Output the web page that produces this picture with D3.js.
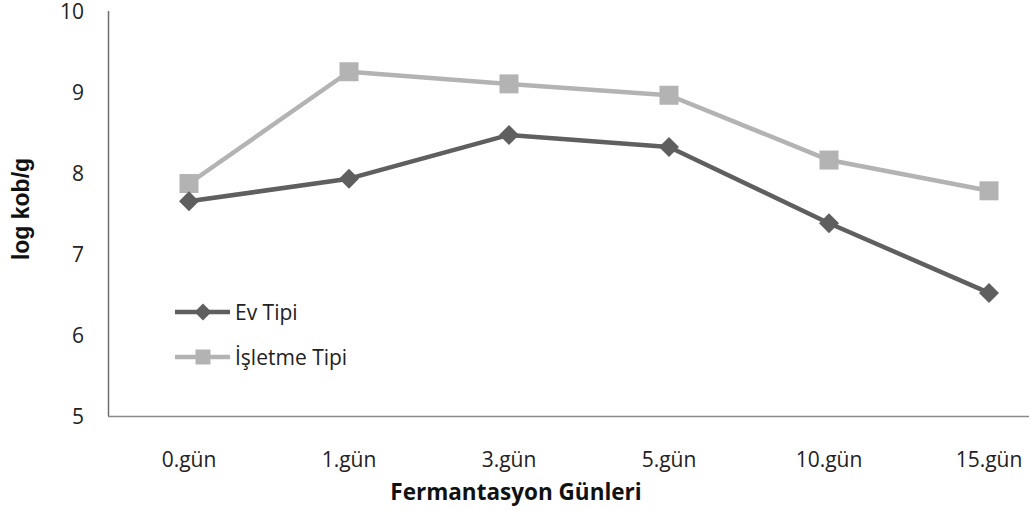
<!DOCTYPE html>
<html>
<head>
<meta charset="utf-8">
<script src="https://cdn.jsdelivr.net/npm/d3@7"></script>
<style>
  html, body { margin: 0; padding: 0; background: #fff; }
  svg { display: block; }
</style>
</head>
<body>
<svg id="chart" width="1035" height="510"></svg>
<script>
// Fermentation days and bacterial counts (log cfu/g) for the two production types
const days = ["0.gün", "1.gün", "3.gün", "5.gün", "10.gün", "15.gün"];
const evTipi = [7.65, 7.93, 8.47, 8.32, 7.38, 6.52];
const isletmeTipi = [7.87, 9.25, 9.10, 8.96, 8.16, 7.78];
const yTicks = [5, 6, 7, 8, 9, 10];
const seriesNames = ["Ev Tipi", "İşletme Tipi"];

const series = [
  { name: seriesNames[0], values: evTipi, color: "#5f5f5f", marker: "diamond" },
  { name: seriesNames[1], values: isletmeTipi, color: "#b3b3b3", marker: "square" }
];

const svg = d3.select("#chart");
const tickFont = "'Open Sans', sans-serif";

const x = d3.scaleBand().domain(days).range([109, 1069]);
const y = d3.scaleLinear().domain([5, 10]).range([416, 11]);

// Axis lines
svg.append("line")
  .attr("x1", 108.5).attr("x2", 108.5)
  .attr("y1", 11).attr("y2", 416)
  .attr("stroke", "#6e6e6e").attr("stroke-width", 1.5);
svg.append("line")
  .attr("x1", 108).attr("x2", 1029)
  .attr("y1", 416.5).attr("y2", 416.5)
  .attr("stroke", "#8a8a8a").attr("stroke-width", 1.5);

// Y axis labels
const yAxis = d3.axisLeft(y).tickValues(yTicks).tickFormat(d3.format("d")).tickSize(0).tickPadding(0);
const gy = svg.append("g").attr("transform", "translate(84,0)").call(yAxis);
gy.select(".domain").remove();
gy.selectAll("text")
  .attr("font-family", tickFont).attr("font-size", 21).attr("fill", "#222")
  .attr("dy", "0.36em");

// X axis labels
const xAxis = d3.axisBottom(x).tickSize(0).tickPadding(0);
const gx = svg.append("g").attr("transform", "translate(0,452)").call(xAxis);
gx.select(".domain").remove();
gx.selectAll("text")
  .attr("font-family", tickFont).attr("font-size", 21).attr("fill", "#222")
  .attr("dy", "0.71em");

// Axis titles
svg.append("text")
  .attr("transform", "translate(29,209) rotate(-90)")
  .attr("text-anchor", "middle")
  .attr("font-family", "'Liberation Sans', Arial, sans-serif")
  .attr("font-weight", "bold").attr("font-size", 23).attr("fill", "#111")
  .text("log kob/g");
svg.append("text")
  .attr("x", 516).attr("y", 500)
  .attr("text-anchor", "middle")
  .attr("font-family", tickFont)
  .attr("font-weight", "bold").attr("font-size", 22.5).attr("fill", "#111")
  .text("Fermantasyon Günleri");

const cx = (i) => x(days[i]) + x.bandwidth() / 2;
const line = d3.line().x((d, i) => cx(i)).y(d => y(d));

function drawMarker(g, type, px, py, size, color) {
  if (type === "square") {
    g.append("rect")
      .attr("x", px - size / 2).attr("y", py - size / 2)
      .attr("width", size).attr("height", size)
      .attr("fill", color);
  } else {
    const r = size / 2;
    g.append("path")
      .attr("d", `M${px},${py - r}L${px + r},${py}L${px},${py + r}L${px - r},${py}Z`)
      .attr("fill", color);
  }
}

// Draw light series first so the dark one sits on top
[series[1], series[0]].forEach(s => {
  const g = svg.append("g");
  g.append("path")
    .datum(s.values)
    .attr("d", line)
    .attr("fill", "none")
    .attr("stroke", s.color)
    .attr("stroke-width", 4.5)
    .attr("stroke-linejoin", "round");
  s.values.forEach((v, i) => {
    drawMarker(g, s.marker, cx(i), y(v), s.marker === "square" ? 19 : 20, s.color);
  });
});

// Legend
const legend = svg.append("g");
series.forEach((s, i) => {
  const ly = 312 + i * 45;
  legend.append("line")
    .attr("x1", 175).attr("x2", 230)
    .attr("y1", ly).attr("y2", ly)
    .attr("stroke", s.color).attr("stroke-width", 4.5);
  drawMarker(legend, s.marker, 203, ly, s.marker === "square" ? 15 : 17, s.color);
  legend.append("text")
    .attr("x", 235).attr("y", ly)
    .attr("dy", "0.36em")
    .attr("font-family", tickFont).attr("font-size", 21).attr("fill", "#222")
    .text(s.name);
});
</script>
</body>
</html>
